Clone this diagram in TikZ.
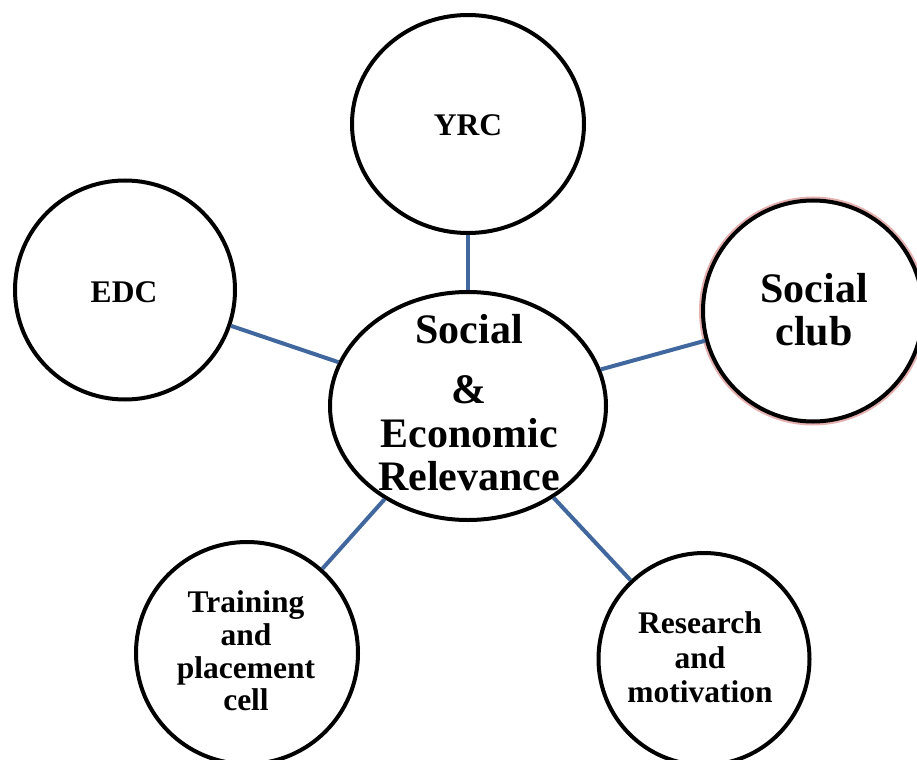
\documentclass[tikz,border=0pt]{standalone}
\usepackage{fontspec}
\setmainfont{Liberation Serif}
\usetikzlibrary{shapes.geometric}
\definecolor{linkblue}{RGB}{65,104,158}
\definecolor{halopink}{RGB}{228,176,176}
\tikzset{
  ring/.style={draw=black, line width=4bp, fill=white, inner sep=0pt},
  circ/.style={ring, ellipse},
  link/.style={draw=linkblue, line width=4bp},
  big/.style={font=\fontsize{42bp}{46bp}\selectfont\bfseries, anchor=base, inner sep=0pt},
  small/.style={font=\fontsize{31.5bp}{34bp}\selectfont\bfseries, anchor=base, inner sep=0pt},
}
\begin{document}
\begin{tikzpicture}[x=1bp, y=-1bp]
\useasboundingbox (0,0) rectangle (917,760);
\clip (0,0) rectangle (917,760);
\fill[white] (0,0) rectangle (917,760);
% circles
\node[circ, minimum width=232bp, minimum height=218bp] (yrc) at (468,124) {};
\node[circ, minimum width=220bp, minimum height=219bp] (edc) at (125,290) {};
\node[circ, draw=halopink, line width=8bp, minimum width=220bp, minimum height=221bp] (sochalo) at (813,311) {};
\node[circ, minimum width=220bp, minimum height=221bp] (soc) at (813,311) {};
\node[circ, minimum width=276bp, minimum height=228bp] (ctr) at (468,406) {};
\node[circ, minimum width=222bp, minimum height=222bp] (trn) at (247,653) {};
\node[circ, minimum width=211bp, minimum height=212bp] (res) at (704,659) {};
% connectors
\draw[link] (yrc) -- (ctr);
\draw[link] (edc) -- (ctr);
\draw[link] (soc) -- (ctr);
\draw[link] (trn) -- (ctr);
\draw[link] (res) -- (ctr);
% labels
\node[small] (tyrc) at (468,135) {YRC};
\node[small] (tedc) at (124,302) {EDC};
\node[big] (tsoc1) at (814,302) {Social};
\node[big] (tsoc2) at (814,345) {club};
\node[big] (tc1) at (469,343) {Social};
\node[big] (tc2) at (469,403) {\&};
\node[big] (tc3) at (469,447) {Economic};
\node[big] (tc4) at (469,490) {Relevance};
\node[small] (tt1) at (246,612) {Training};
\node[small] (tt2) at (246,645) {and};
\node[small] (tt3) at (246,678) {placement};
\node[small] (tt4) at (246,710) {cell};
\node[small] (tr1) at (700,633) {Research};
\node[small] (tr2) at (700,668) {and};
\node[small] (tr3) at (700,702) {motivation};
\end{tikzpicture}
\end{document}
